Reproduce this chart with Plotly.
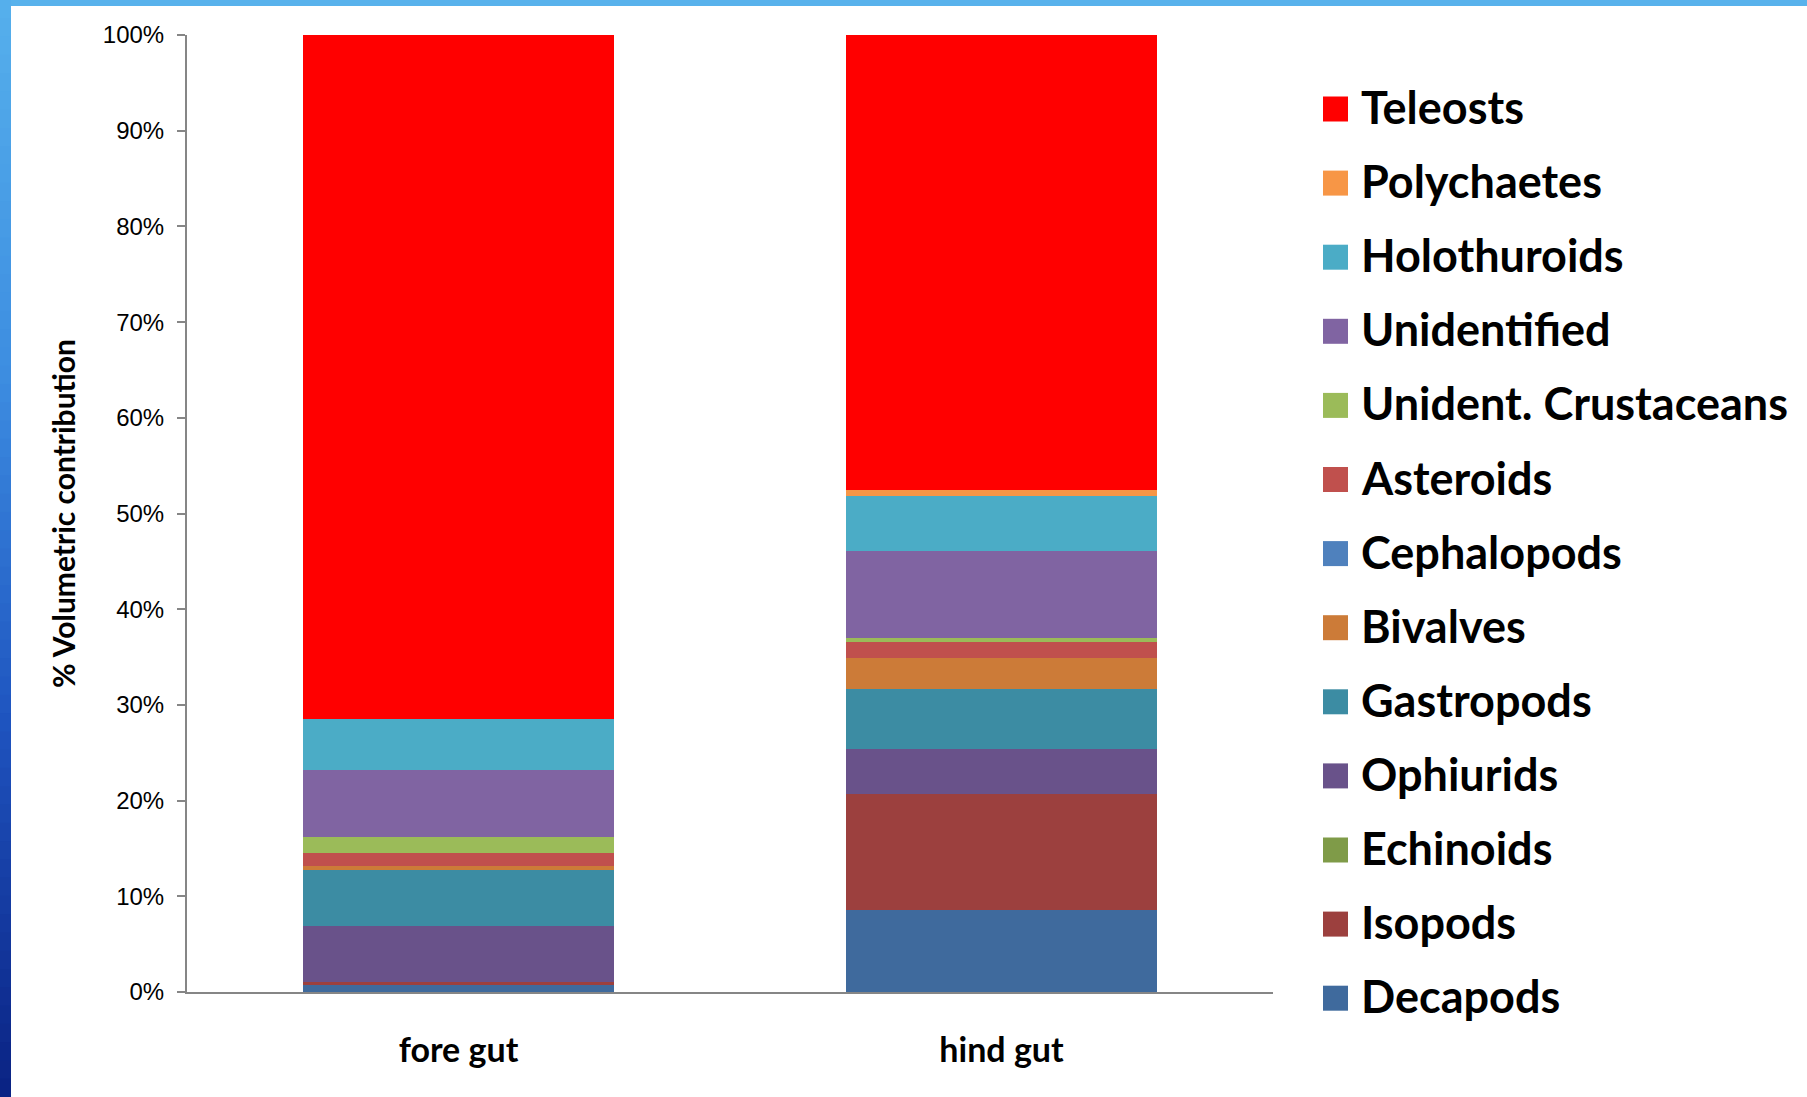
import plotly.graph_objects as go

# Gut sections (x categories)
sections = ["fore gut", "hind gut"]

# Prey groups, listed bottom of the stack to top
prey_groups = [
    "Decapods", "Isopods", "Echinoids", "Ophiurids", "Gastropods", "Bivalves",
    "Cephalopods", "Asteroids", "Unident. Crustaceans", "Unidentified",
    "Holothuroids", "Polychaetes", "Teleosts",
]

# % volumetric contribution per prey group: [fore gut, hind gut]
decapods = [0.8, 8.6]
isopods = [0.2, 12.1]
echinoids = [0.0, 0.0]
ophiurids = [5.9, 4.7]
gastropods = [5.8, 6.3]
bivalves = [0.5, 3.2]
cephalopods = [0.0, 0.0]
asteroids = [1.3, 1.7]
unident_crustaceans = [1.7, 0.4]
unidentified = [7.0, 9.1]
holothuroids = [5.3, 5.7]
polychaetes = [0.0, 0.7]
teleosts = [71.5, 47.5]

series_values = [
    decapods, isopods, echinoids, ophiurids, gastropods, bivalves,
    cephalopods, asteroids, unident_crustaceans, unidentified,
    holothuroids, polychaetes, teleosts,
]

colors = [
    "#3F6A9D", "#9C403E", "#7F9B48", "#69528A", "#3C8CA3", "#CC7B38",
    "#4F81BD", "#C0504D", "#9BBB59", "#8064A2", "#4BACC6", "#F79646",
    "#FF0000",
]

y_tick_values = [0, 10, 20, 30, 40, 50, 60, 70, 80, 90, 100]
y_tick_labels = ["0%", "10%", "20%", "30%", "40%", "50%", "60%", "70%", "80%", "90%", "100%"]

# Page geometry (pixels)
W, H = 1807, 1097
L, R, T, B = 187, 1273, 35, 992


def px_x(px):
    return (px - L) / (R - L)


def px_y(py):
    return (B - py) / (B - T)


fig = go.Figure()
for name, vals, col in zip(prey_groups, series_values, colors):
    fig.add_trace(go.Bar(
        x=sections, y=vals, name=name,
        marker=dict(color=col, line=dict(width=0)),
        showlegend=False,
    ))

shapes = []
annotations = []

# Key: coloured squares with bold labels, top group first
row0, row_step = 109, 74.1
for i, (name, col) in enumerate(zip(prey_groups[::-1], colors[::-1])):
    cy = row0 + i * row_step
    shapes.append(dict(
        type="rect", xref="paper", yref="paper",
        x0=px_x(1323), x1=px_x(1348), y0=px_y(cy + 12.5), y1=px_y(cy - 12.5),
        fillcolor=col, line=dict(width=0),
    ))
    annotations.append(dict(
        text=name, xref="paper", yref="paper",
        x=px_x(1359), y=px_y(cy - 2), xanchor="left", yanchor="middle",
        showarrow=False,
        font=dict(family="Lato", size=45, color="#000000", weight="bold"),
    ))

# Blue slide frame along the top and left edges
shapes.append(dict(
    type="rect", xref="paper", yref="paper",
    x0=px_x(0), x1=px_x(W), y0=px_y(6), y1=px_y(0),
    fillcolor="#58B2EC", line=dict(width=0),
))


def lerp_hex(c1, c2, t):
    a = [int(c1[k:k + 2], 16) for k in (1, 3, 5)]
    b = [int(c2[k:k + 2], 16) for k in (1, 3, 5)]
    return "#" + "".join(f"{round(a[j] + (b[j] - a[j]) * t):02X}" for j in range(3))


stops = [(0.0, "#56B0EC"), (0.35, "#3C8CE0"), (0.65, "#1F55C0"), (1.0, "#0A2283")]
n_strips = 60
for k in range(n_strips):
    f = (k + 0.5) / n_strips
    for (p0, c0), (p1, c1) in zip(stops[:-1], stops[1:]):
        if p0 <= f <= p1:
            col = lerp_hex(c0, c1, (f - p0) / (p1 - p0))
            break
    y_top = H * k / n_strips
    y_bot = H * (k + 1) / n_strips + 1
    shapes.append(dict(
        type="rect", xref="paper", yref="paper",
        x0=px_x(0), x1=px_x(11), y0=px_y(y_bot), y1=px_y(y_top),
        fillcolor=col, line=dict(width=0),
    ))

fig.update_layout(
    width=W, height=H,
    margin=dict(l=L, r=W - R, t=T, b=H - B, autoexpand=False),
    paper_bgcolor="#FFFFFF", plot_bgcolor="#FFFFFF",
    barmode="stack", bargap=0.429,
    showlegend=False,
    shapes=shapes, annotations=annotations,
    xaxis=dict(
        showline=True, linecolor="#868686", linewidth=2,
        ticks="", showgrid=False, zeroline=False,
        ticklabelstandoff=27,
        tickfont=dict(family="Lato", size=34, color="#000000", weight="bold"),
    ),
    yaxis=dict(
        range=[0, 100], tickvals=y_tick_values, ticktext=y_tick_labels,
        showline=True, linecolor="#868686", linewidth=2,
        ticks="outside", ticklen=8, tickwidth=2, tickcolor="#868686",
        showgrid=False, zeroline=False,
        ticklabelstandoff=8,
        tickfont=dict(family="Liberation Sans", size=24, color="#000000"),
        title=dict(
            text="% Volumetric contribution", standoff=18,
            font=dict(family="Lato", size=30, color="#000000", weight="bold"),
        ),
    ),
)

fig.write_html("out.html")
